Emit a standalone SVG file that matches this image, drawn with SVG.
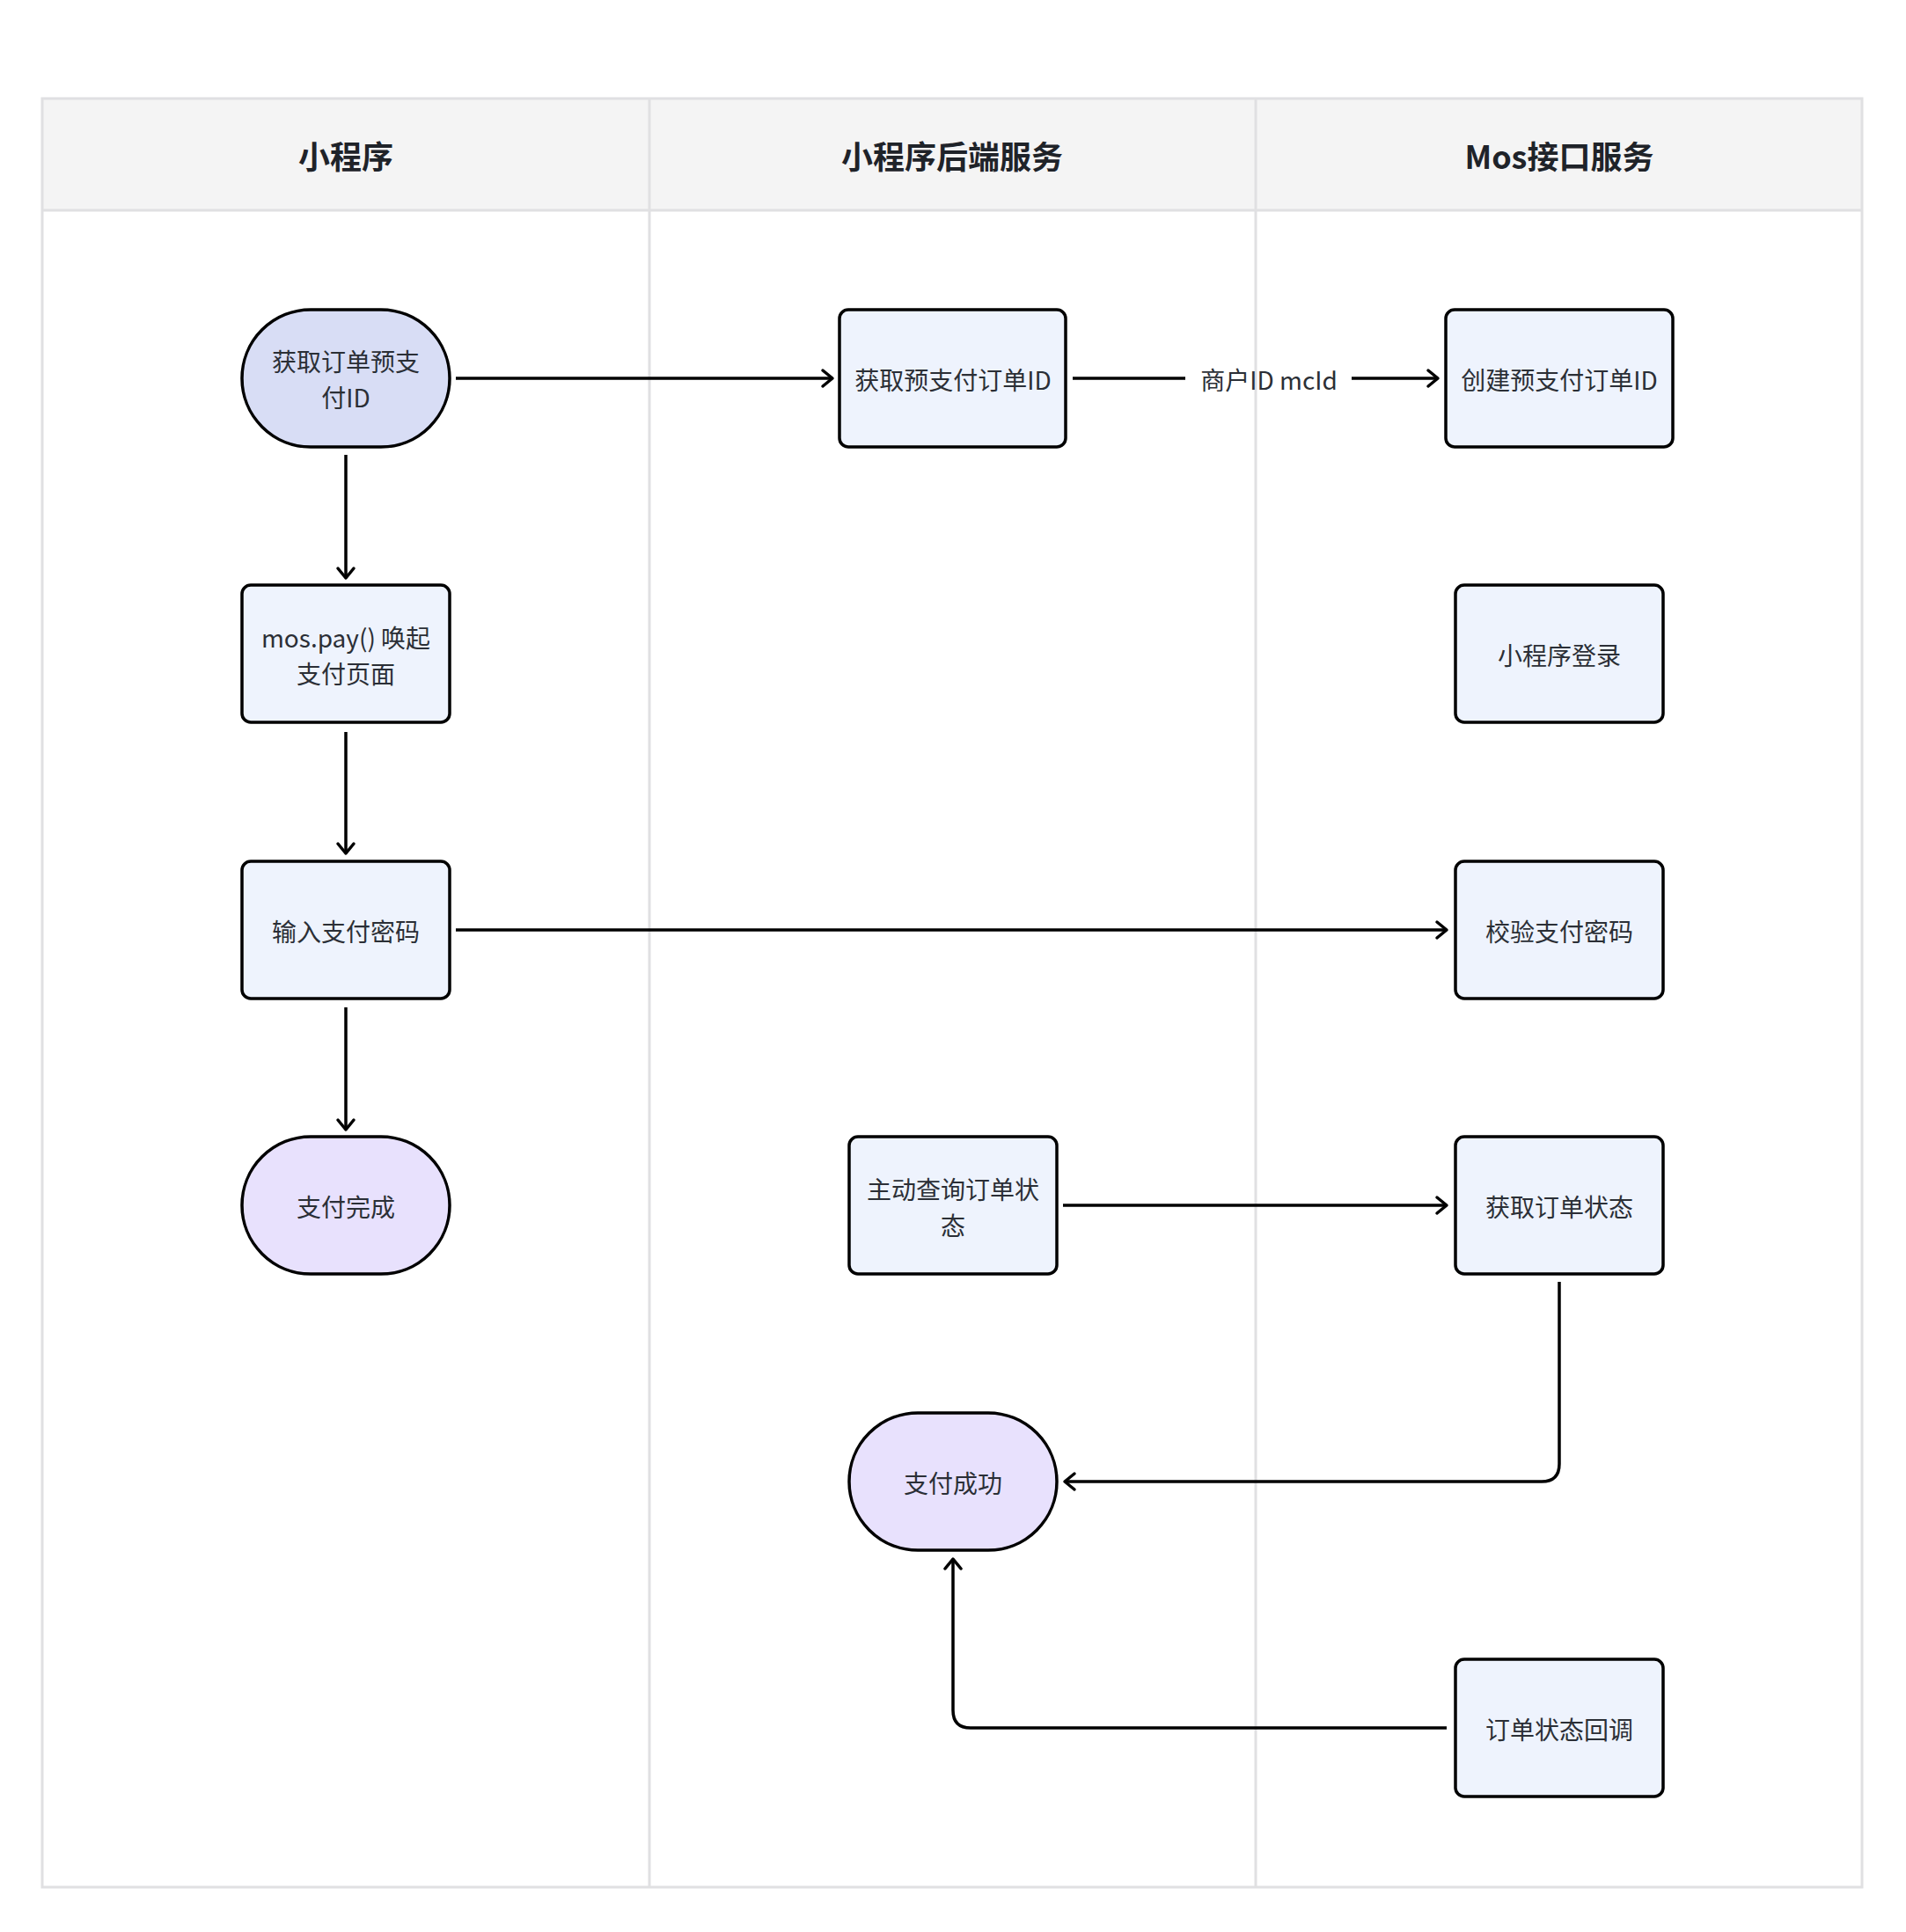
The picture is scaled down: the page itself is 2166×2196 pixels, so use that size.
<svg xmlns="http://www.w3.org/2000/svg" width="2166" height="2196" viewBox="0 0 2166 2196">
<style>
.lane{fill:none;stroke:#e0e0e2;stroke-width:3}
.hdr{fill:#f4f4f4}
.ht{font-family:"Noto Sans CJK SC","Noto Sans",sans-serif;font-size:36px;font-weight:bold;fill:#1f2329;text-anchor:middle;dominant-baseline:central}
.box{fill:#eef3fd;stroke:#000;stroke-width:3.5}
.start{fill:#d8ddf5;stroke:#000;stroke-width:3.5}
.end{fill:#e8e1fd;stroke:#000;stroke-width:3.5}
.t{font-family:"Noto Sans CJK SC","Noto Sans",sans-serif;font-size:28px;fill:#2b2f36;text-anchor:middle;dominant-baseline:central}
.c{fill:none;stroke:#000;stroke-width:3.5}
</style>
<defs>
<marker id="arr" markerUnits="userSpaceOnUse" markerWidth="24" markerHeight="24" viewBox="0 0 24 24" refX="15" refY="12" orient="auto">
<path d="M4,3 L15,12 L4,21" fill="none" stroke="#000" stroke-width="3.5" stroke-linecap="round" stroke-linejoin="round"/>
</marker>
</defs>
<rect width="2166" height="2196" fill="#fff"/>
<g id="lanes">
<rect class="hdr" x="48" y="112" width="2068" height="127"/>
<rect class="lane" x="48" y="112" width="2068" height="2033"/>
<line class="lane" x1="48" y1="239" x2="2116" y2="239"/>
<line class="lane" x1="738" y1="112" x2="738" y2="2145"/>
<line class="lane" x1="1427" y1="112" x2="1427" y2="2145"/>
<text class="ht" x="393" y="176">小程序</text>
<text class="ht" x="1082" y="176">小程序后端服务</text>
<text class="ht" x="1772" y="176">Mos接口服务</text>
</g>
<g id="connectors">
<line class="c" x1="518" y1="430" x2="946" y2="430" marker-end="url(#arr)"/>
<line class="c" x1="1219" y1="430" x2="1347" y2="430"/>
<text class="t" x="1442" y="431">商户ID mcId</text>
<line class="c" x1="1536" y1="430" x2="1634" y2="430" marker-end="url(#arr)"/>
<line class="c" x1="393" y1="517" x2="393" y2="657" marker-end="url(#arr)"/>
<line class="c" x1="393" y1="832" x2="393" y2="970" marker-end="url(#arr)"/>
<line class="c" x1="518" y1="1057" x2="1644" y2="1057" marker-end="url(#arr)"/>
<line class="c" x1="393" y1="1145" x2="393" y2="1284" marker-end="url(#arr)"/>
<line class="c" x1="1208" y1="1370" x2="1644" y2="1370" marker-end="url(#arr)"/>
<path class="c" d="M1772,1457 L1772,1664 Q1772,1684 1752,1684 L1210,1684" marker-end="url(#arr)"/>
<path class="c" d="M1644,1964 L1103,1964 Q1083,1964 1083,1944 L1083,1772" marker-end="url(#arr)"/>
</g>
<g id="n1"><rect class="start" x="275" y="352" width="236" height="156" rx="78" ry="78"/><text class="t" x="393" y="410">获取订单预支</text><text class="t" x="393" y="451">付ID</text></g>
<g id="n2"><rect class="box" x="954" y="352" width="257" height="156" rx="10"/><text class="t" x="1083" y="431">获取预支付订单ID</text></g>
<g id="n3"><rect class="box" x="1643" y="352" width="258" height="156" rx="10"/><text class="t" x="1772" y="431">创建预支付订单ID</text></g>
<g id="n4"><rect class="box" x="275" y="665" width="236" height="156" rx="10"/><text class="t" x="393" y="724">mos.pay() 唤起</text><text class="t" x="393" y="765">支付页面</text></g>
<g id="n5"><rect class="box" x="1654" y="665" width="236" height="156" rx="10"/><text class="t" x="1772" y="744">小程序登录</text></g>
<g id="n6"><rect class="box" x="275" y="979" width="236" height="156" rx="10"/><text class="t" x="393" y="1058">输入支付密码</text></g>
<g id="n7"><rect class="box" x="1654" y="979" width="236" height="156" rx="10"/><text class="t" x="1772" y="1058">校验支付密码</text></g>
<g id="n8"><rect class="end" x="275" y="1292" width="236" height="156" rx="78" ry="78"/><text class="t" x="393" y="1371">支付完成</text></g>
<g id="n9"><rect class="box" x="965" y="1292" width="236" height="156" rx="10"/><text class="t" x="1083" y="1351">主动查询订单状</text><text class="t" x="1083" y="1392">态</text></g>
<g id="n10"><rect class="box" x="1654" y="1292" width="236" height="156" rx="10"/><text class="t" x="1772" y="1371">获取订单状态</text></g>
<g id="n11"><rect class="end" x="965" y="1606" width="236" height="156" rx="78" ry="78"/><text class="t" x="1083" y="1685">支付成功</text></g>
<g id="n12"><rect class="box" x="1654" y="1886" width="236" height="156" rx="10"/><text class="t" x="1772" y="1965">订单状态回调</text></g>
</svg>
